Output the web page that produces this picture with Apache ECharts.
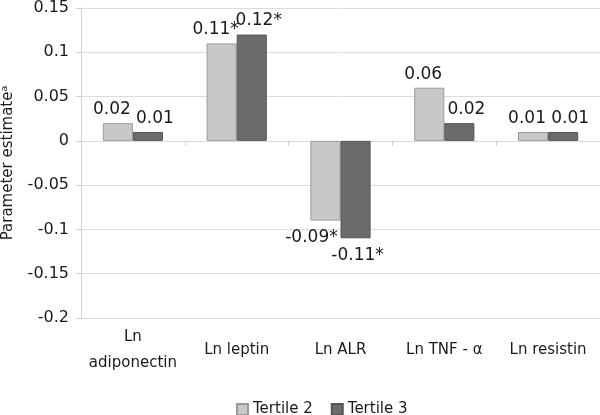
<!DOCTYPE html>
<html><head><meta charset="utf-8">
<script src="https://cdn.jsdelivr.net/npm/echarts@6/dist/echarts.min.js"></script>
<style>html,body{margin:0;padding:0;background:#fff}#c{width:600px;height:415px}</style>
</head><body><div id="c"></div>
<script>
const categories = ['Ln\nadiponectin', 'Ln leptin', 'Ln ALR', 'Ln TNF - α', 'Ln resistin'];
const tertile2 = [0.02, 0.11, -0.09, 0.06, 0.01];
const tertile3 = [0.01, 0.12, -0.11, 0.02, 0.01];
const labels2 = ['0.02', '0.11*', '-0.09*', '0.06', '0.01'];
const labels3 = ['0.01', '0.12*', '-0.11*', '0.02', '0.01'];
const seriesNames = ['Tertile 2', 'Tertile 3'];

const font = 'DejaVu Sans';
const chart = echarts.init(document.getElementById('c'));
function mk(name, vals, labs, color, border, dxPos, dxNeg) {
  return {
    name, type: 'bar', barGap: 0, barCategoryGap: '42%', xAxisIndex: 0,
    data: vals.map((v, i) => ({
      value: v,
      label: {
        show: true, position: v >= 0 ? 'top' : 'bottom', formatter: labs[i],
        distance: v >= 0 ? 5 : 9, offset: [v >= 0 ? dxPos : dxNeg, 0]
      }
    })),
    itemStyle: { color, borderColor: border, borderWidth: 1 },
    label: { color: '#1a1a1a', fontSize: 17, fontFamily: font },
    emphasis: { disabled: true }
  };
}
chart.setOption({
  animation: false,
  textStyle: { fontFamily: font },
  grid: { left: 81, right: 0, top: 8, bottom: 97, containLabel: false, outerBoundsMode: 'none' },
  legend: {
    top: 402, left: 236, padding: 0, itemWidth: 11, itemHeight: 11, itemGap: 18,
    textStyle: { fontSize: 15, color: '#1a1a1a', fontFamily: font },
    data: seriesNames.map(n => ({ name: n, icon: 'rect' }))
  },
  xAxis: [{
    type: 'category', data: categories, position: 'top',
    axisLine: { show: true, onZero: true, lineStyle: { color: '#d9d9d9' } },
    axisTick: { show: true, inside: true, length: 5, lineStyle: { color: '#d0d0d0' } },
    axisLabel: { show: false }
  }, {
    type: 'category', data: categories, position: 'bottom',
    axisLine: { show: false, onZero: false }, axisTick: { show: false },
    axisLabel: { fontSize: 15, color: '#1a1a1a', margin: 32, lineHeight: 26, interval: 0,
      verticalAlign: 'middle', fontFamily: font }
  }],
  yAxis: {
    type: 'value', min: -0.2, max: 0.15, interval: 0.05,
    name: 'Parameter estimateᵃ', nameLocation: 'middle', nameGap: 65, nameRotate: 90,
    nameTextStyle: { fontSize: 15, color: '#1a1a1a', fontFamily: font },
    axisLine: { show: true, lineStyle: { color: '#d0d0d0', width: 1 } },
    axisTick: { show: true, length: 5, lineStyle: { color: '#d0d0d0' } },
    axisLabel: { fontSize: 16, color: '#1a1a1a', margin: 12, fontFamily: font,
      formatter: v => String(Math.round(v * 100) / 100) },
    splitLine: { lineStyle: { color: '#dcdcdc', width: 1 } }
  },
  series: [
    mk(seriesNames[0], tertile2, labels2, '#c8c8c8', '#9a9a9a', -6, -14),
    mk(seriesNames[1], tertile3, labels3, '#6b6b6b', '#555555', 7, 2)
  ]
});
</script></body></html>
